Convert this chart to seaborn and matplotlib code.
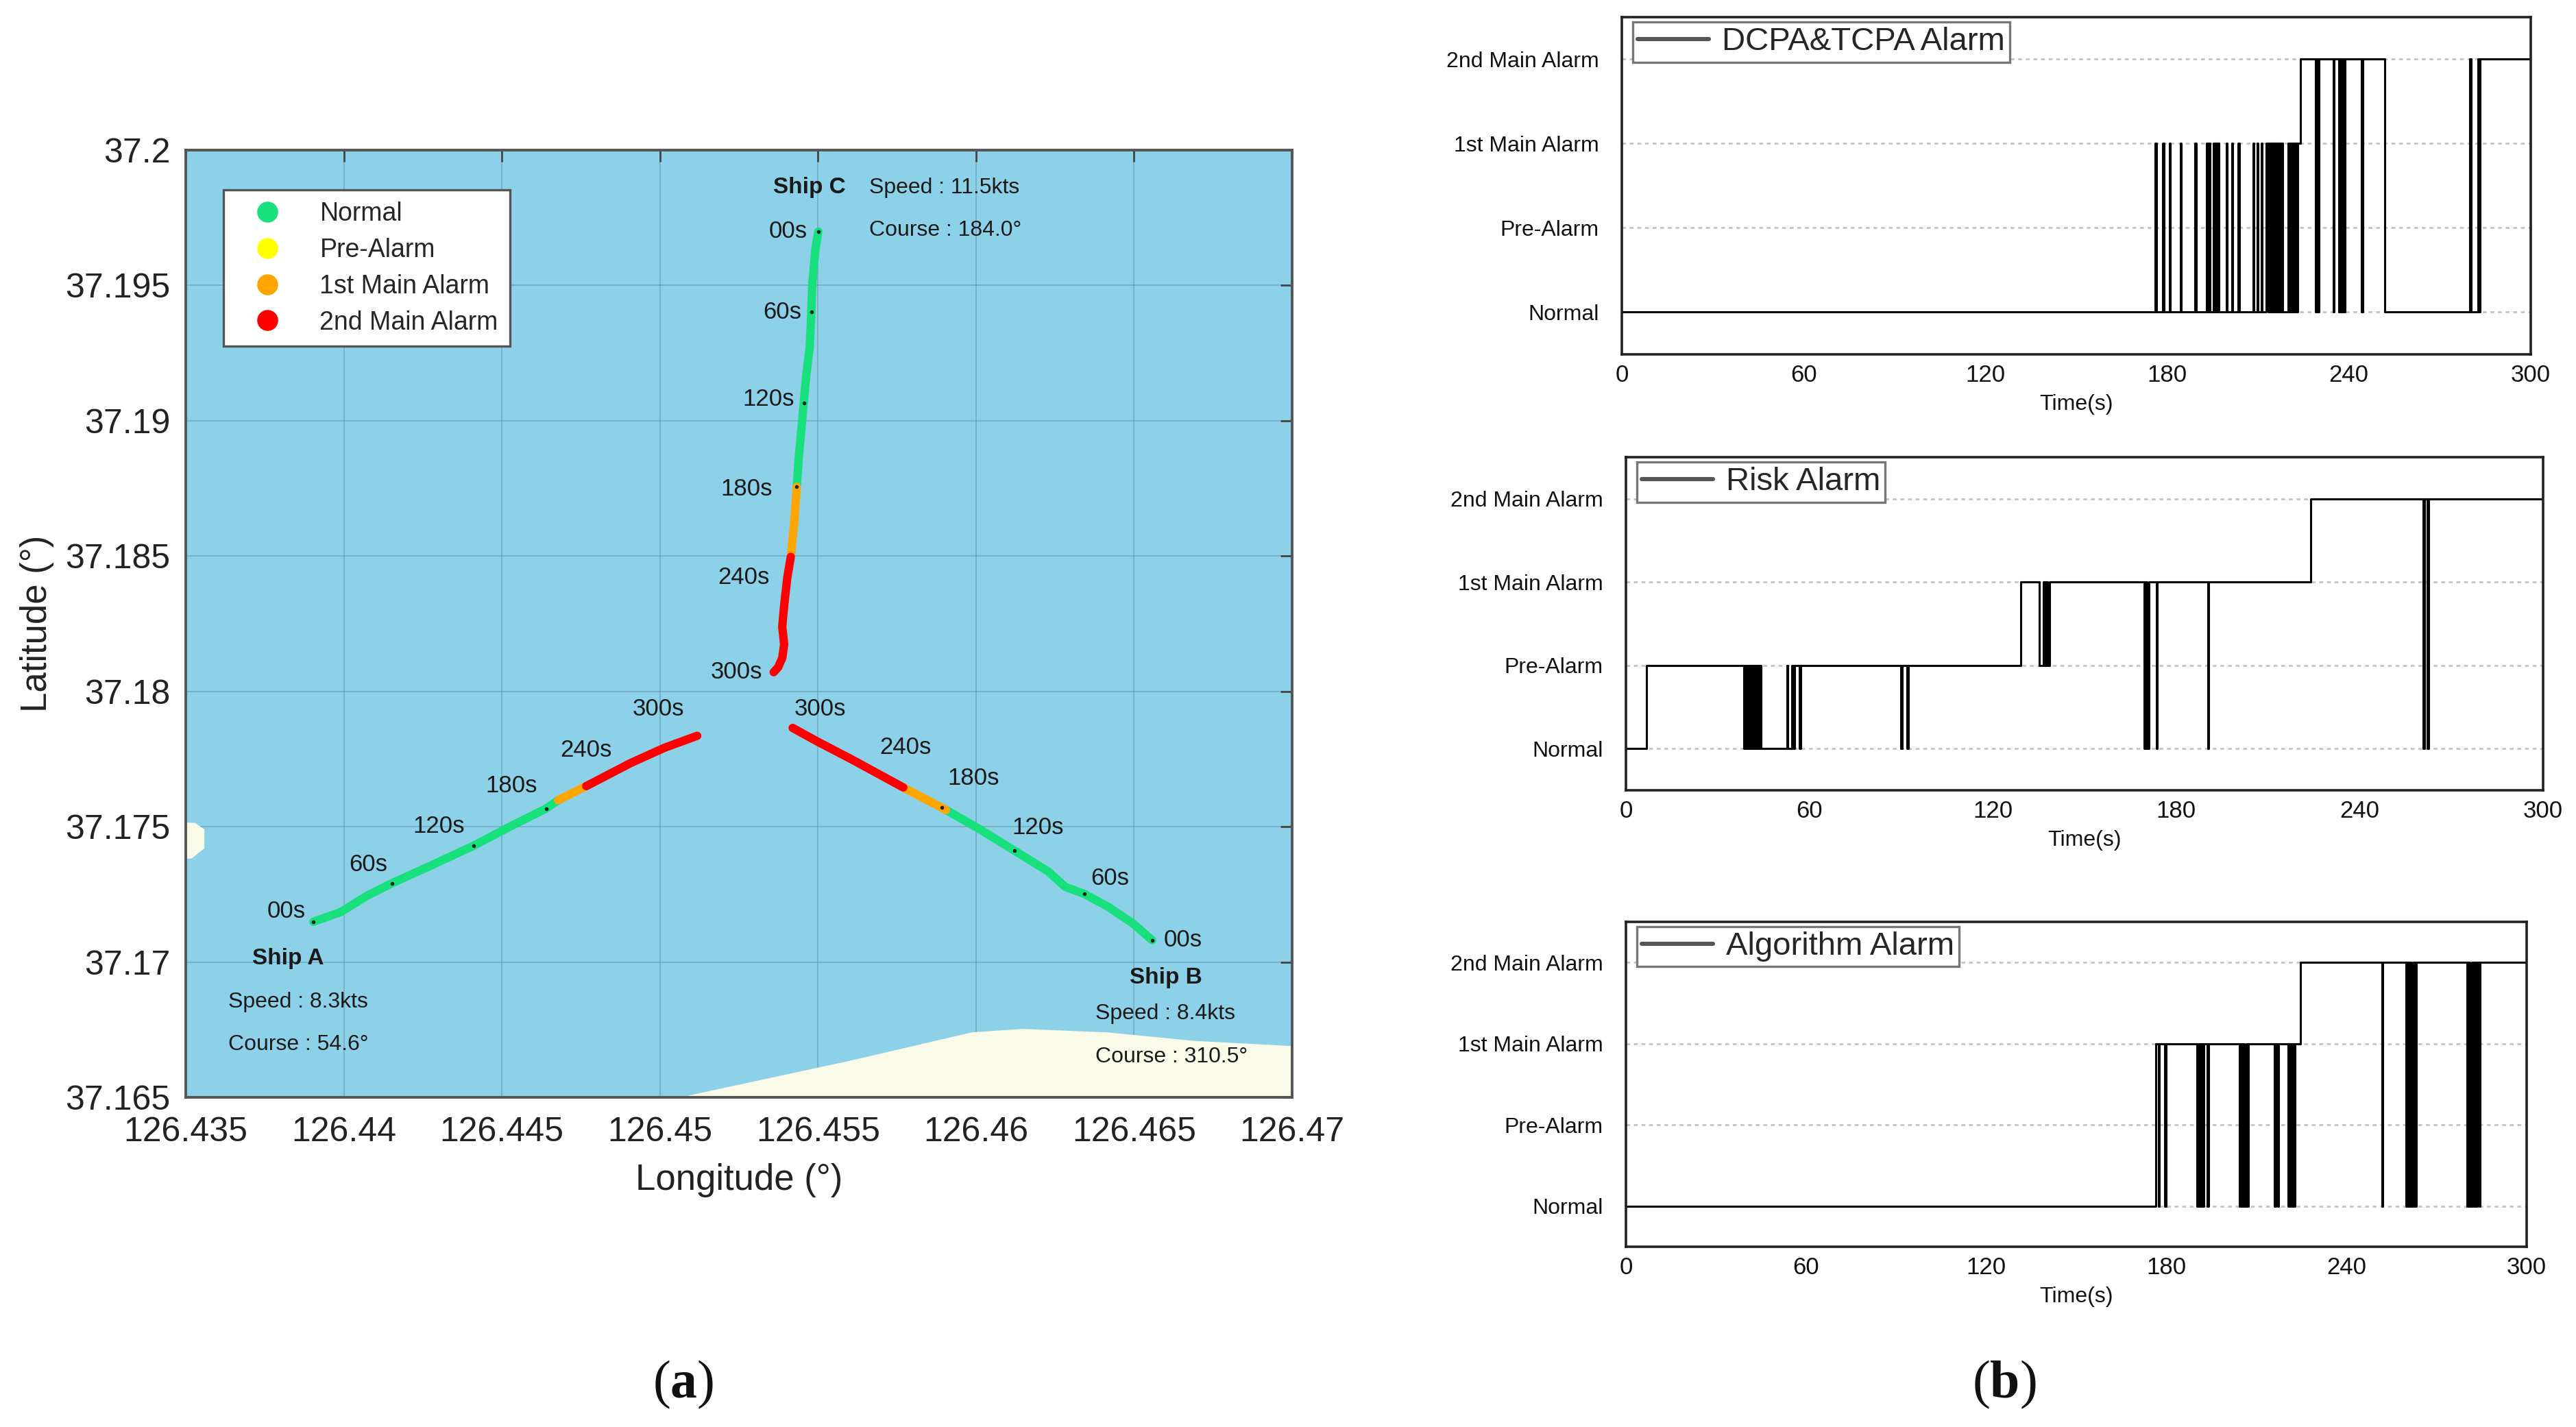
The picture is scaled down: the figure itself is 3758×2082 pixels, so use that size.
import matplotlib
matplotlib.use('Agg')
import matplotlib.pyplot as plt
from matplotlib.lines import Line2D
import pandas as pd
import seaborn as sns

# ------------------------------------------------------------------ data
level_names = ['Normal', 'Pre-Alarm', '1st Main Alarm', '2nd Main Alarm']
level_colors = ['#17e07c', '#ffff00', '#ffa500', '#ff0000']
time_ticks = [0, 60, 120, 180, 240, 300]
lon_ticks = [126.435, 126.44, 126.445, 126.45, 126.455, 126.46, 126.465, 126.47]
lon_tick_labels = ['126.435', '126.44', '126.445', '126.45', '126.455', '126.46', '126.465', '126.47']
lat_ticks = [37.165, 37.17, 37.175, 37.18, 37.185, 37.19, 37.195, 37.2]
lat_tick_labels = ['37.165', '37.17', '37.175', '37.18', '37.185', '37.19', '37.195', '37.2']

# ship tracks (waypoints) and alarm level of each segment between waypoints
shipA_lon = [126.43904, 126.43991, 126.44072, 126.44152, 126.44260, 126.44411, 126.44530,
             126.44640, 126.44678, 126.44767, 126.44907, 126.45015, 126.45118]
shipA_lat = [37.17149, 37.17185, 37.17244, 37.17291, 37.17348, 37.17430, 37.17503,
             37.17567, 37.17598, 37.17650, 37.17735, 37.17792, 37.17836]
shipA_seg = [0, 0, 0, 0, 0, 0, 0, 0, 2, 3, 3, 3]

shipB_lon = [126.46557, 126.46498, 126.46417, 126.46342, 126.46282, 126.46228, 126.46121,
             126.46013, 126.45905, 126.45770, 126.45608, 126.45501, 126.45420]
shipB_lat = [37.17081, 37.17141, 37.17205, 37.17252, 37.17278, 37.17335, 37.17412,
             37.17490, 37.17562, 37.17645, 37.17748, 37.17813, 37.17865]
shipB_seg = [0, 0, 0, 0, 0, 0, 0, 0, 2, 3, 3, 3]

shipC_lon = [126.45501, 126.45492, 126.45482, 126.45479, 126.45474, 126.45463, 126.45455,
             126.45447, 126.45439, 126.45433, 126.45425, 126.45414, 126.45403, 126.45393,
             126.45387, 126.45393, 126.45387, 126.45374, 126.45360]
shipC_lat = [37.19699, 37.19634, 37.19505, 37.19402, 37.19273, 37.19169, 37.19066,
             37.18963, 37.18859, 37.18756, 37.18627, 37.18497, 37.18420, 37.18317,
             37.18239, 37.18174, 37.18123, 37.18089, 37.18071]
shipC_seg = [0, 0, 0, 0, 0, 0, 0, 0, 0, 2, 2, 3, 3, 3, 3, 3, 3, 3]

# small black time marks on tracks (00s, 60s, 120s, 180s)
mark_lon = [126.43904, 126.44152, 126.44411, 126.44640,
            126.46557, 126.46342, 126.46121, 126.45891,
            126.45501, 126.45479, 126.45455, 126.45433]
mark_lat = [37.17149, 37.17291, 37.17430, 37.17567,
            37.17081, 37.17252, 37.17412, 37.17572,
            37.19699, 37.19402, 37.19066, 37.18756]

# time labels on the map
tlabA_text = ['00s', '60s', '120s', '180s', '240s', '300s']
tlabA_lon = [126.43818, 126.44077, 126.44301, 126.44530, 126.44767, 126.44994]
tlabA_lat = [37.17187, 37.17360, 37.17503, 37.17652, 37.17784, 37.17934]
tlabB_text = ['00s', '60s', '120s', '180s', '240s', '300s']
tlabB_lon = [126.46655, 126.46423, 126.46196, 126.45991, 126.45776, 126.45506]
tlabB_lat = [37.17081, 37.17309, 37.17497, 37.17678, 37.17792, 37.17934]
tlabC_text = ['00s', '60s', '120s', '180s', '240s', '300s']
tlabC_lon = [126.45406, 126.45387, 126.45344, 126.45274, 126.45266, 126.45242]
tlabC_lat = [37.19699, 37.19402, 37.19079, 37.18748, 37.18420, 37.18071]

ship_names = ['Ship A', 'Ship B', 'Ship C']
ship_name_lon = [126.43824, 126.46601, 126.45474]
ship_name_lat = [37.17012, 37.16942, 37.19862]
ship_speed = ['Speed : 8.3kts', 'Speed : 8.4kts', 'Speed : 11.5kts']
ship_course = ['Course : 54.6°', 'Course : 310.5°', 'Course : 184.0°']
ship_info_lon = [126.43635, 126.46377, 126.45662]
ship_speed_lat = [37.16851, 37.16810, 37.19862]
ship_course_lat = [37.16694, 37.16650, 37.19704]

# land areas
land_bottom_lon = [126.4505, 126.45096, 126.45608, 126.45986, 126.46148, 126.46417, 126.46687, 126.4701, 126.4701]
land_bottom_lat = [37.1649, 37.16508, 37.16637, 37.16740, 37.16753, 37.16740, 37.16709, 37.16689, 37.1649]
land_left_lon = [126.4349, 126.43530, 126.43559, 126.43559, 126.43519, 126.4349]
land_left_lat = [37.17516, 37.17514, 37.17490, 37.17420, 37.17383, 37.17381]

# alarm time series: change times (s) and level after each change
dcpa_t = [0, 176.0, 176.4, 178.5, 178.9, 180.7, 181.0, 184.3, 184.6, 189.2, 189.5,
          193.0, 193.4, 193.8, 194.2, 195.2, 195.6, 196.0, 196.4, 196.7, 197.0,
          199.5, 199.8, 201.3, 201.6, 203.5, 203.8,
          208.3, 208.6, 209.7, 210.0, 211.0, 211.3, 212.8, 213.3, 213.6, 214.1,
          214.4, 214.9, 215.2, 215.7, 216.0, 216.5, 216.8, 217.3, 217.6, 218.2,
          220.0, 220.4, 220.8, 221.2, 221.6, 222.0, 222.4, 222.8, 223.1,
          224.1, 229.0, 229.4, 229.7, 230.2, 234.8, 235.1, 236.6, 237.0, 237.4,
          237.9, 238.3, 238.8, 244.2, 244.6, 251.8, 280.0, 280.3, 282.6, 283.0, 283.4]
dcpa_l = [0, 2, 0, 2, 0, 2, 0, 2, 0, 2, 0,
          2, 0, 2, 0, 2, 0, 2, 0, 2, 0,
          2, 0, 2, 0, 2, 0,
          2, 0, 2, 0, 2, 0, 2, 0, 2, 0,
          2, 0, 2, 0, 2, 0, 2, 0, 2, 0,
          2, 0, 2, 0, 2, 0, 2, 0, 2,
          3, 0, 3, 0, 3, 0, 3, 0, 3, 0,
          3, 0, 3, 0, 3, 0, 3, 0, 3, 0, 3]

risk_t = [0, 6.8, 38.6, 39.0, 39.4, 39.8, 40.2, 40.6, 41.0, 41.4, 41.8, 42.2, 42.6,
          43.0, 43.4, 43.8, 44.1, 52.6, 53.0, 54.3, 54.6, 55.1, 56.8, 57.1,
          90.0, 90.4, 92.0, 92.4, 129.2, 135.2, 136.6, 136.9, 137.4, 137.8, 138.5,
          169.6, 170.0, 170.5, 171.0, 173.5, 173.8, 190.3, 190.6, 224.1,
          260.8, 261.2, 262.2, 262.6]
risk_l = [0, 1, 0, 1, 0, 1, 0, 1, 0, 1, 0, 1, 0,
          1, 0, 1, 0, 1, 0, 1, 0, 1, 0, 1,
          0, 1, 0, 1, 2, 1, 2, 1, 2, 1, 2,
          0, 2, 0, 2, 0, 2, 0, 2, 3,
          0, 3, 0, 3]

alg_t = [0, 176.5, 177.4, 177.7, 179.5, 179.8,
         190.2, 190.6, 191.0, 191.5, 192.0, 192.4, 193.6, 194.1,
         204.2, 204.6, 205.0, 205.5, 206.0, 206.5, 206.9, 207.3,
         216.0, 216.3, 217.0, 217.3,
         220.4, 220.9, 221.4, 221.9, 222.4, 222.9,
         224.6, 251.7, 252.0,
         259.7, 260.2, 260.7, 261.2, 261.7, 262.2, 262.7, 263.1,
         280.2, 280.6, 281.1, 281.6, 282.1, 282.6, 283.1, 283.6, 284.1, 284.5]
alg_l = [0, 2, 0, 2, 0, 2,
         0, 2, 0, 2, 0, 2, 0, 2,
         0, 2, 0, 2, 0, 2, 0, 2,
         0, 2, 0, 2,
         0, 2, 0, 2, 0, 2,
         3, 0, 3,
         0, 3, 0, 3, 0, 3, 0, 3,
         0, 3, 0, 3, 0, 3, 0, 3, 0, 3]

panel_titles = ['DCPA&TCPA Alarm', 'Risk Alarm', 'Algorithm Alarm']
subfig_labels = ['a', 'b']

# ------------------------------------------------------------------ style
sns.set_theme(style='white')
FONT = ['Liberation Sans', 'DejaVu Sans']
plt.rcParams['font.family'] = FONT
plt.rcParams['mathtext.fontset'] = 'custom'
plt.rcParams['mathtext.rm'] = 'Liberation Serif'
plt.rcParams['mathtext.bf'] = 'Liberation Serif:bold'

fig = plt.figure(figsize=(18.79, 10.41), dpi=200)

# ------------------------------------------------------------------ map (a)
ax = fig.add_axes([0.0721, 0.2310, 0.4295, 0.6638])
ax.set_facecolor('#8dd1e9')
ax.fill(land_bottom_lon, land_bottom_lat, color='#fafae8', lw=0, zorder=1)
ax.fill(land_left_lon, land_left_lat, color='#fafae8', lw=0, zorder=1)

for lon, lat, seg in [(shipA_lon, shipA_lat, shipA_seg),
                      (shipB_lon, shipB_lat, shipB_seg),
                      (shipC_lon, shipC_lat, shipC_seg)]:
    start = 0
    for i in range(1, len(seg) + 1):
        if i == len(seg) or seg[i] != seg[start]:
            df = pd.DataFrame({'lon': lon[start:i + 1], 'lat': lat[start:i + 1]})
            sns.lineplot(data=df, x='lon', y='lat', ax=ax, sort=False, estimator=None,
                         color=level_colors[seg[start]], lw=4.4,
                         solid_capstyle='round', solid_joinstyle='round', zorder=3)
            start = i

sns.scatterplot(x=mark_lon, y=mark_lat, ax=ax, color='#202020', s=4, lw=0, zorder=4)

for texts, lons, lats in [(tlabA_text, tlabA_lon, tlabA_lat),
                          (tlabB_text, tlabB_lon, tlabB_lat),
                          (tlabC_text, tlabC_lon, tlabC_lat)]:
    for s, x, y in zip(texts, lons, lats):
        ax.text(x, y, s, ha='center', va='center', fontsize=12.5, color='#1a1a1a', zorder=5)

for name, nx, ny, sp, co, ix, sy, cy in zip(ship_names, ship_name_lon, ship_name_lat,
                                             ship_speed, ship_course, ship_info_lon,
                                             ship_speed_lat, ship_course_lat):
    ax.text(nx, ny, name, ha='center', va='center', fontsize=12, fontweight='bold',
            color='#1a1a1a', zorder=5)
    ax.text(ix, sy, sp, ha='left', va='center', fontsize=11.5, color='#1a1a1a', zorder=5)
    ax.text(ix, cy, co, ha='left', va='center', fontsize=11.5, color='#1a1a1a', zorder=5)

ax.set_xlim(126.435, 126.47)
ax.set_ylim(37.165, 37.2)
ax.set_xticks(lon_ticks)
ax.set_xticklabels(lon_tick_labels)
ax.set_yticks(lat_ticks)
ax.set_yticklabels(lat_tick_labels)
ax.grid(True, color='#5d8fa5', lw=0.6, alpha=0.55)
ax.set_axisbelow(True)
ax.tick_params(axis='both', which='both', direction='in', length=6, width=1.0,
               color='#444444', top=True, right=True, labelsize=18,
               labelcolor='#222222', pad=8)
ax.tick_params(axis='x', pad=10)
for sp_ in ax.spines.values():
    sp_.set_color('#555555')
    sp_.set_linewidth(1.4)
    sp_.set_visible(True)
ax.set_xlabel('Longitude (°)', fontsize=19, color='#222222', labelpad=8)
ax.set_ylabel('Latitude (°)', fontsize=19, color='#222222', labelpad=6)

handles = [Line2D([], [], marker='o', ls='', markersize=11, color=c, markeredgewidth=0)
           for c in level_colors]
leg = ax.legend(handles, level_names, loc='upper left', bbox_to_anchor=(0.034, 0.958),
                borderaxespad=0, fontsize=13.5, frameon=True, fancybox=False,
                framealpha=1, edgecolor='#555555', labelspacing=0.45,
                handlelength=2.5, handletextpad=0.8, borderpad=0.45)
leg.get_frame().set_linewidth(1.2)

# ------------------------------------------------------------------ alarm panels (b)
panel_rects = [[0.6296, 0.7517, 0.3528, 0.2363],
               [0.6312, 0.4462, 0.3560, 0.2334],
               [0.6312, 0.1263, 0.3497, 0.2277]]
series = [(dcpa_t, dcpa_l), (risk_t, risk_l), (alg_t, alg_l)]

for rect, (ts, ls), title in zip(panel_rects, series, panel_titles):
    bx = fig.add_axes(rect)
    bx.set_facecolor('white')
    df = pd.DataFrame({'t': list(ts) + [300], 'level': list(ls) + [ls[-1]]})
    sns.lineplot(data=df, x='t', y='level', ax=bx, sort=False, estimator=None,
                 drawstyle='steps-post', color='black', lw=1.1, label=title)
    bx.set_xlim(0, 300)
    bx.set_ylim(-0.5, 3.5)
    bx.set_xticks(time_ticks)
    bx.set_xticklabels([str(v) for v in time_ticks])
    bx.set_yticks([0, 1, 2, 3])
    bx.set_yticklabels(level_names)
    bx.grid(axis='y', color='#c4c4c4', lw=1.0, ls=(0, (2, 2)))
    bx.grid(axis='x', visible=False)
    bx.set_axisbelow(True)
    bx.tick_params(axis='y', length=0, labelsize=11.5, pad=12, labelcolor='#111111')
    bx.tick_params(axis='x', length=0, labelsize=12.5, pad=5, labelcolor='#111111')
    bx.set_xlabel('Time(s)', fontsize=11.5, color='#111111', labelpad=4)
    bx.set_ylabel('')
    for sp_ in bx.spines.values():
        sp_.set_color('#222222')
        sp_.set_linewidth(1.3)
        sp_.set_visible(True)
    lg = bx.legend(loc='upper left', bbox_to_anchor=(0.012, 0.985), borderaxespad=0,
                   fontsize=17, frameon=True, fancybox=False, framealpha=1,
                   edgecolor='#777777', handlelength=2.2, handletextpad=0.4,
                   borderpad=0.15)
    lg.get_frame().set_linewidth(1.2)
    for ln in lg.get_lines():
        ln.set_color('#555555')
        ln.set_linewidth(2.2)

for lab, xpos in zip(subfig_labels, [0.2653, 0.7781]):
    fig.text(xpos, 0.0298, r'$\mathrm{(}\mathbf{' + lab + r'}\mathrm{)}$', fontsize=28,
             ha='center', va='center', color='#111111')

fig.savefig('out.png', dpi=200, facecolor='white')
